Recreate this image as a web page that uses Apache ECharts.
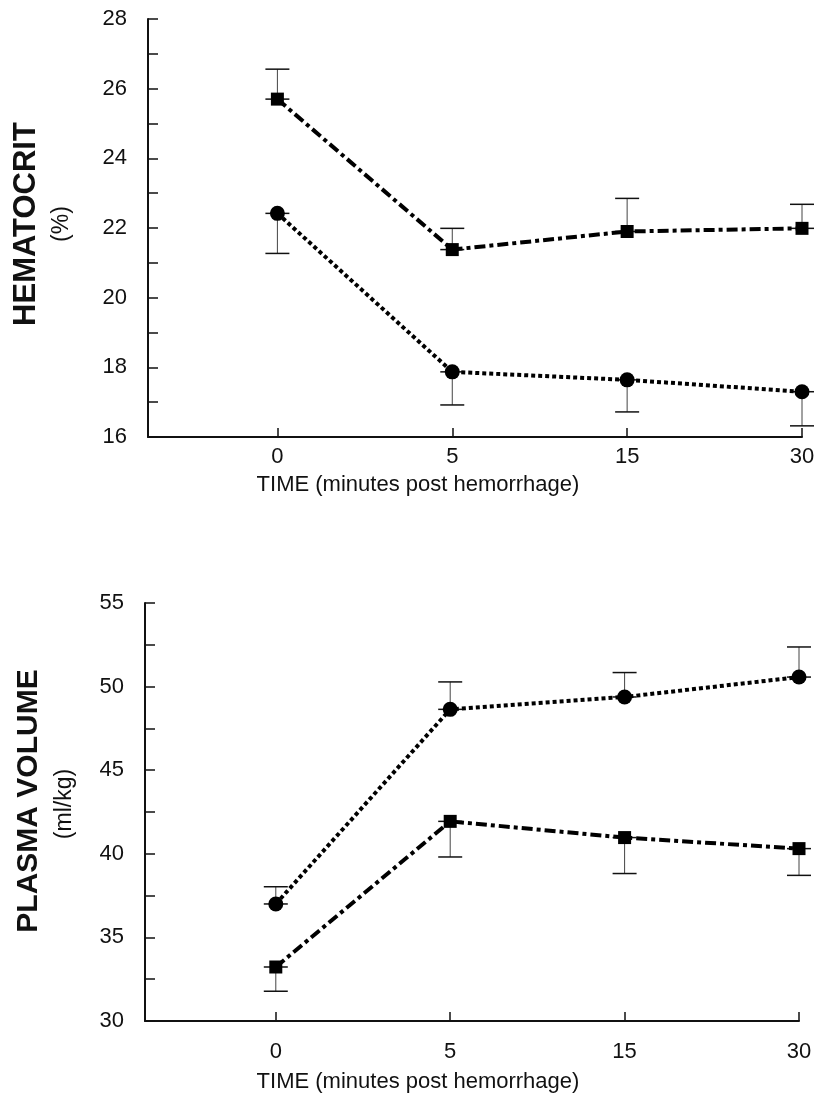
<!DOCTYPE html>
<html>
<head>
<meta charset="utf-8">
<title>Hematocrit and plasma volume</title>
<script src="https://cdn.jsdelivr.net/npm/echarts@6/dist/echarts.min.js"></script>
<style>
  html, body { margin: 0; padding: 0; background: #fff; }
  #main { width: 821px; height: 1105px; }
</style>
</head>
<body>
<div id="main"></div>
<script>
// time points (minutes post hemorrhage), drawn at positions 0..3
const timeLabels = ['0', '5', '15', '30']
const timeIdx = [0, 1, 2, 3]

// hematocrit (%)
const hctSquare = [25.7, 21.38, 21.9, 21.99]
const hctSquareSem = [0.86, 0.61, 0.95, 0.69]   // bar drawn upward
const hctCircle = [22.42, 17.87, 17.64, 17.3]
const hctCircleSem = [1.15, 0.95, 0.92, 0.98]   // bar drawn downward

// plasma volume (ml/kg)
const pvCircle = [37.0, 48.64, 49.38, 50.57]
const pvCircleSem = [1.03, 1.64, 1.46, 1.8]     // upward
const pvSquare = [33.23, 41.94, 40.97, 40.31]
const pvSquareSem = [1.45, 2.13, 2.15, 1.6]     // downward

const fontFam = '"Liberation Sans", Arial, Helvetica, sans-serif'
const ink = '#111'

function pairs(vals) {
    return vals.map((v, i) => [timeIdx[i], v])
}

// [x, mean, end of error bar]
function errData(vals, sem, dir) {
    return vals.map((v, i) => [timeIdx[i], v, v + dir * sem[i]])
}

function renderErr(params, api) {
    const x = api.value(0)
    const p0 = api.coord([x, api.value(1)])
    const p1 = api.coord([x, api.value(2)])
    const hw = 12
    return {
        type: 'group',
        children: [
            { type: 'line', shape: { x1: p0[0], y1: p0[1], x2: p1[0], y2: p1[1] }, style: { stroke: '#444', lineWidth: 1 } },
            { type: 'line', shape: { x1: p1[0] - hw, y1: p1[1], x2: p1[0] + hw, y2: p1[1] }, style: { stroke: ink, lineWidth: 1.5 } },
            { type: 'line', shape: { x1: p0[0] - hw, y1: p0[1], x2: p0[0] + hw, y2: p0[1] }, style: { stroke: ink, lineWidth: 1.5 } }
        ]
    }
}

function xAxisCfg(idx, min, labelMargin) {
    return {
        type: 'value', gridIndex: idx, min: min, max: 3,
        axisLine: { show: true, onZero: false, lineStyle: { color: ink, width: 2 } },
        axisTick: { show: true, inside: true, length: 9, customValues: timeIdx, lineStyle: { color: ink, width: 1.5 } },
        axisLabel: {
            customValues: timeIdx, margin: labelMargin, fontSize: 22, color: ink, fontFamily: fontFam,
            formatter: (v) => timeLabels[Math.round(v)]
        },
        splitLine: { show: false }
    }
}

function yAxisCfg(idx, min, max, step, labelStep) {
    return {
        type: 'value', gridIndex: idx, min: min, max: max, interval: step,
        axisLine: { show: true, onZero: false, lineStyle: { color: ink, width: 2 } },
        axisTick: { show: true, inside: true, length: 10, lineStyle: { color: ink, width: 1.5 } },
        axisLabel: {
            margin: 21, fontSize: 22, color: ink, fontFamily: fontFam,
            formatter: (v) => (Math.abs(v % labelStep) < 1e-6 ? String(v) : '')
        },
        splitLine: { show: false }
    }
}

function lineSeries(idx, data, shape) {
    const isSq = shape === 'rect'
    return {
        type: 'line', xAxisIndex: idx, yAxisIndex: idx, data: pairs(data),
        symbol: shape, symbolSize: isSq ? 13 : 15,
        itemStyle: { color: '#000' },
        lineStyle: { color: '#000', width: 4, cap: 'butt', type: isSq ? [11, 4, 4, 4] : [4, 3] },
        z: 3
    }
}

function errSeries(idx, vals, sem, dir) {
    return {
        type: 'custom', xAxisIndex: idx, yAxisIndex: idx,
        data: errData(vals, sem, dir), renderItem: renderErr, z: 2
    }
}

function vText(x, y, text, size, weight) {
    return {
        type: 'text', x: x, y: y, rotation: Math.PI / 2,
        style: { text: text, fontSize: size, fontWeight: weight, fontFamily: fontFam, fill: ink, align: 'center', verticalAlign: 'middle' }
    }
}

function hText(x, y, text) {
    return {
        type: 'text', x: x, y: y,
        style: { text: text, fontSize: 22, fontFamily: fontFam, fill: ink, align: 'center', verticalAlign: 'middle' }
    }
}

const option = {
    animation: false,
    backgroundColor: '#fff',
    grid: [
        { left: 148, top: 19, width: 654, height: 418 },
        { left: 145, top: 603, width: 654, height: 418 }
    ],
    xAxis: [xAxisCfg(0, -0.74, 9), xAxisCfg(1, -0.75, 20)],
    yAxis: [yAxisCfg(0, 16, 28, 1, 2), yAxisCfg(1, 30, 55, 2.5, 5)],
    series: [
        errSeries(0, hctSquare, hctSquareSem, 1),
        errSeries(0, hctCircle, hctCircleSem, -1),
        lineSeries(0, hctSquare, 'rect'),
        lineSeries(0, hctCircle, 'circle'),
        errSeries(1, pvCircle, pvCircleSem, 1),
        errSeries(1, pvSquare, pvSquareSem, -1),
        lineSeries(1, pvCircle, 'circle'),
        lineSeries(1, pvSquare, 'rect')
    ],
    graphic: [
        vText(26, 224, 'HEMATOCRIT', 31, 'bold'),
        vText(62, 224, '(%)', 23, 'normal'),
        hText(418, 485, 'TIME (minutes post hemorrhage)'),
        vText(29, 801, 'PLASMA VOLUME', 30, 'bold'),
        vText(65, 804, '(ml/kg)', 23, 'normal'),
        hText(418, 1082, 'TIME (minutes post hemorrhage)')
    ]
}

const myChart = echarts.init(document.getElementById('main'))
myChart.setOption(option)
window.addEventListener('resize', () => {
    myChart.resize()
})
</script>
</body>
</html>
